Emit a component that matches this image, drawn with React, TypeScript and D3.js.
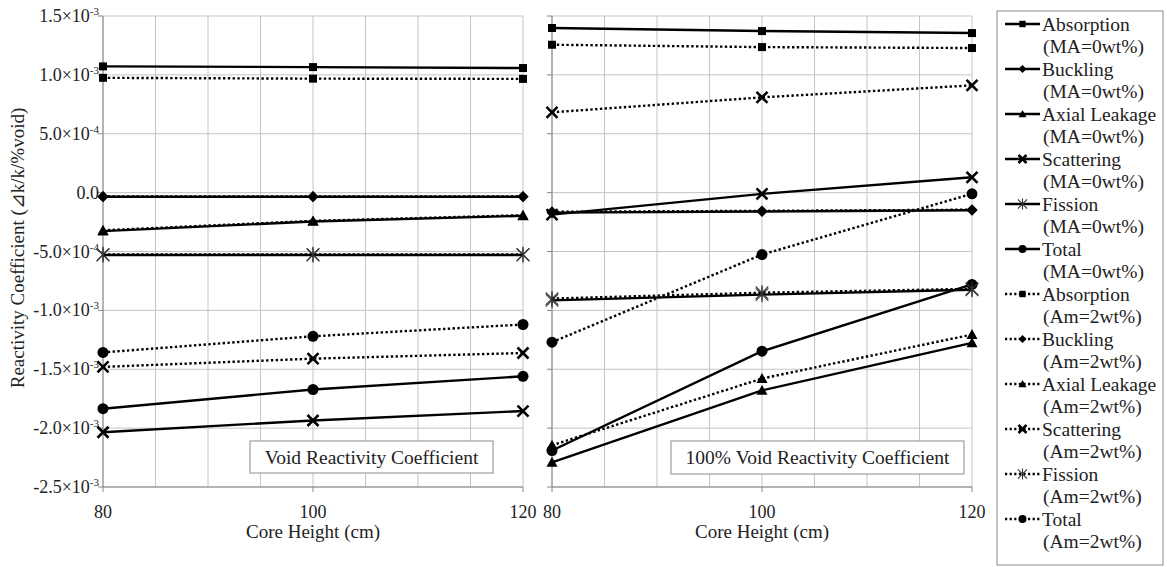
import { useEffect, useRef } from "react";
import * as d3 from "d3";

// core heights (cm)
const heights = [80, 100, 120];
const gridHeights = [80, 85, 90, 95, 100, 105, 110, 115, 120];
const yTicks = [1.5e-3, 1.0e-3, 5.0e-4, 0, -5.0e-4, -1.0e-3, -1.5e-3, -2.0e-3, -2.5e-3];

const names = ["Absorption", "Buckling", "Axial Leakage", "Scattering", "Fission", "Total"];
const markers = ["square", "diamond", "triangle", "cross", "star", "circle"];
const cases = ["(MA=0wt%)", "(Am=2wt%)"];

// left panel: void reactivity coefficient
const absMA_L = [1.072e-3, 1.066e-3, 1.058e-3];
const bucMA_L = [-3.5e-5, -3.5e-5, -3.5e-5];
const axMA_L = [-3.27e-4, -2.45e-4, -1.97e-4];
const scaMA_L = [-2.035e-3, -1.935e-3, -1.855e-3];
const fisMA_L = [-5.3e-4, -5.3e-4, -5.3e-4];
const totMA_L = [-1.835e-3, -1.672e-3, -1.56e-3];
const absAm_L = [0.975e-3, 0.968e-3, 0.966e-3];
const bucAm_L = [-3.3e-5, -3.3e-5, -3.3e-5];
const axAm_L = [-3.2e-4, -2.4e-4, -1.92e-4];
const scaAm_L = [-1.48e-3, -1.41e-3, -1.362e-3];
const fisAm_L = [-5.25e-4, -5.25e-4, -5.25e-4];
const totAm_L = [-1.357e-3, -1.22e-3, -1.12e-3];

// right panel: 100% void reactivity coefficient
const absMA_R = [1.398e-3, 1.372e-3, 1.355e-3];
const bucMA_R = [-1.7e-4, -1.6e-4, -1.5e-4];
const axMA_R = [-2.29e-3, -1.68e-3, -1.276e-3];
const scaMA_R = [-1.87e-4, -1.1e-5, 1.3e-4];
const fisMA_R = [-9.15e-4, -8.66e-4, -8.25e-4];
const totMA_R = [-2.19e-3, -1.347e-3, -7.8e-4];
const absAm_R = [1.256e-3, 1.236e-3, 1.228e-3];
const bucAm_R = [-1.62e-4, -1.55e-4, -1.45e-4];
const axAm_R = [-2.145e-3, -1.579e-3, -1.205e-3];
const scaAm_R = [6.82e-4, 8.09e-4, 9.11e-4];
const fisAm_R = [-9.0e-4, -8.5e-4, -8.17e-4];
const totAm_R = [-1.27e-3, -5.26e-4, -1.0e-5];

const leftSeries = [absMA_L, bucMA_L, axMA_L, scaMA_L, fisMA_L, totMA_L, absAm_L, bucAm_L, axAm_L, scaAm_L, fisAm_L, totAm_L];
const rightSeries = [absMA_R, bucMA_R, axMA_R, scaMA_R, fisMA_R, totMA_R, absAm_R, bucAm_R, axAm_R, scaAm_R, fisAm_R, totAm_R];

const FONT = "Liberation Serif, DejaVu Serif, serif";

function drawMarker(g: any, type: string, x: number, y: number, s: number) {
    if (type === "square") {
        g.append("rect").attr("x", x - s * 0.8).attr("y", y - s * 0.8).attr("width", s * 1.6).attr("height", s * 1.6).attr("fill", "#000");
    } else if (type === "diamond") {
        g.append("path").attr("d", `M${x} ${y - s} L${x + s} ${y} L${x} ${y + s} L${x - s} ${y} Z`).attr("fill", "#000");
    } else if (type === "triangle") {
        g.append("path").attr("d", `M${x} ${y - s} L${x + s} ${y + s * 0.8} L${x - s} ${y + s * 0.8} Z`).attr("fill", "#000");
    } else if (type === "circle") {
        g.append("circle").attr("cx", x).attr("cy", y).attr("r", s).attr("fill", "#000");
    } else if (type === "cross") {
        g.append("path").attr("d", `M${x - s} ${y - s} L${x + s} ${y + s} M${x - s} ${y + s} L${x + s} ${y - s}`)
            .attr("stroke", "#000").attr("stroke-width", 2.6).attr("fill", "none");
    } else if (type === "star") {
        const k = s * 1.15;
        g.append("path").attr("d", `M${x - k} ${y - k} L${x + k} ${y + k} M${x - k} ${y + k} L${x + k} ${y - k} M${x} ${y - k * 1.2} L${x} ${y + k * 1.2}`)
            .attr("stroke", "#333").attr("stroke-width", 1.1).attr("fill", "none");
    }
}

export default function App() {
    const ref = useRef<SVGSVGElement>(null);

    useEffect(() => {
        const svg = d3.select(ref.current);
        svg.selectAll("*").remove();

        const top = 16, bottom = 487;
        const y = d3.scaleLinear().domain([-2.5e-3, 1.5e-3]).range([bottom, top]);

        const panels = [
            { x0: 103, x1: 523, data: leftSeries, label: "Void Reactivity Coefficient", box: [250, 441, 243, 32], labels: true },
            { x0: 552, x1: 972, data: rightSeries, label: "100% Void Reactivity Coefficient", box: [671, 441, 293, 33], labels: false },
        ];

        panels.forEach((p) => {
            const x = d3.scaleLinear().domain([80, 120]).range([p.x0, p.x1]);
            const g = svg.append("g");

            // gridlines
            g.selectAll(".hg").data(yTicks).join("line")
                .attr("x1", p.x0).attr("x2", p.x1).attr("y1", (d) => y(d)).attr("y2", (d) => y(d))
                .attr("stroke", "#c4c4c4").attr("stroke-width", 1);
            g.selectAll(".vg").data(gridHeights).join("line")
                .attr("x1", (d) => x(d)).attr("x2", (d) => x(d)).attr("y1", top).attr("y2", bottom)
                .attr("stroke", "#c4c4c4").attr("stroke-width", 1);

            // y axis
            g.append("line").attr("x1", p.x0).attr("x2", p.x0).attr("y1", top).attr("y2", bottom).attr("stroke", "#868686");
            g.selectAll(".yt").data(yTicks).join("line")
                .attr("x1", p.x0 - 5).attr("x2", p.x0).attr("y1", (d) => y(d)).attr("y2", (d) => y(d)).attr("stroke", "#868686");
            // x axis
            g.append("line").attr("x1", p.x0).attr("x2", p.x1).attr("y1", bottom).attr("y2", bottom).attr("stroke", "#868686");
            g.selectAll(".xt").data(heights).join("line")
                .attr("x1", (d) => x(d)).attr("x2", (d) => x(d)).attr("y1", bottom).attr("y2", bottom + 5).attr("stroke", "#868686");

            g.selectAll(".xl").data(heights).join("text")
                .attr("x", (d) => x(d)).attr("y", 518).attr("text-anchor", "middle")
                .attr("font-family", FONT).attr("font-size", 18).attr("fill", "#222")
                .text((d) => String(d));
            g.append("text").attr("x", (p.x0 + p.x1) / 2).attr("y", 538).attr("text-anchor", "middle")
                .attr("font-family", FONT).attr("font-size", 19).attr("fill", "#222")
                .text("Core Height (cm)");

            if (p.labels) {
                const lab = g.selectAll(".yl").data(yTicks).join("text")
                    .attr("x", p.x0 - 4).attr("y", (d) => y(d) + 6).attr("text-anchor", "end")
                    .attr("font-family", FONT).attr("font-size", 18).attr("fill", "#222");
                lab.each(function (d) {
                    const t = d3.select(this);
                    if (d === 0) { t.text("0.0"); return; }
                    const e = Math.floor(Math.log10(Math.abs(d)) + 1e-9);
                    const m = d / Math.pow(10, e);
                    t.append("tspan").text(`${m.toFixed(1)}×10`);
                    t.append("tspan").attr("dy", -7).attr("font-size", 11).text(String(e));
                });
            }

            // series
            const line = d3.line<number>().x((_, i) => x(heights[i])).y((d) => y(d));
            p.data.forEach((vals, si) => {
                const dotted = si >= 6;
                const sg = g.append("g");
                sg.append("path").attr("d", line(vals)).attr("fill", "none").attr("stroke", "#000")
                    .attr("stroke-width", 2.4).attr("stroke-dasharray", dotted ? "2.4 2.4" : null);
                vals.forEach((v, i) => drawMarker(sg, markers[si % 6], x(heights[i]), y(v), markers[si % 6] === "square" ? 5 : 5.5));
            });

            // inner label box
            const [bx, by, bw, bh] = p.box;
            g.append("rect").attr("x", bx).attr("y", by).attr("width", bw).attr("height", bh)
                .attr("fill", "#fff").attr("stroke", "#8a8a8a");
            g.append("text").attr("x", bx + bw / 2).attr("y", by + bh / 2 + 6.5).attr("text-anchor", "middle")
                .attr("font-family", FONT).attr("font-size", 19.5).attr("fill", "#222").text(p.label);
        });

        // y axis title
        svg.append("text").attr("transform", "translate(24,248) rotate(-90)").attr("text-anchor", "middle")
            .attr("font-family", FONT).attr("font-size", 19).attr("fill", "#222")
            .text("Reactivity Coefficient (⊿k/k/%void)");

        // legend
        const lg = svg.append("g");
        lg.append("rect").attr("x", 997).attr("y", 11).attr("width", 166).attr("height", 554)
            .attr("fill", "#fff").attr("stroke", "#8a8a8a");
        for (let i = 0; i < 12; i++) {
            const cy = 24 + i * 45;
            const dotted = i >= 6;
            lg.append("line").attr("x1", 1005).attr("x2", 1040).attr("y1", cy).attr("y2", cy)
                .attr("stroke", "#000").attr("stroke-width", 2.4).attr("stroke-dasharray", dotted ? "2.2 2.4" : null);
            drawMarker(lg, markers[i % 6], 1022.5, cy, 4);
            lg.append("text").attr("x", 1042).attr("y", cy + 6.5)
                .attr("font-family", FONT).attr("font-size", 19.5).attr("fill", "#222").text(names[i % 6]);
            lg.append("text").attr("x", 1043).attr("y", cy + 29)
                .attr("font-family", FONT).attr("font-size", 19.5).attr("fill", "#222").text(cases[dotted ? 1 : 0]);
        }
    }, []);

    return (
        <svg ref={ref} width={1167} height={567}
            style={{ position: "absolute", left: 0, top: 0, background: "#fff" }} />
    );
}
